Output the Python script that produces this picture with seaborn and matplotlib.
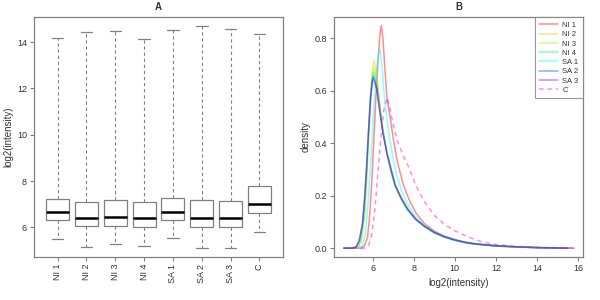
import numpy as np
import pandas as pd
import matplotlib
matplotlib.use('Agg')
import matplotlib.pyplot as plt
import seaborn as sns

# ---- panel A: boxplot summary values ----
samples = ['NI 1', 'NI 2', 'NI 3', 'NI 4', 'SA 1', 'SA 2', 'SA 3', 'C']
whisk_lo = [5.48, 5.16, 5.28, 5.19, 5.55, 5.11, 5.11, 5.80]
q1 = [6.33, 6.04, 6.04, 6.00, 6.30, 6.00, 6.00, 6.60]
median = [6.65, 6.39, 6.46, 6.39, 6.66, 6.41, 6.40, 7.02]
q3 = [7.21, 7.08, 7.19, 7.11, 7.28, 7.19, 7.14, 7.77]
whisk_hi = [14.16, 14.45, 14.47, 14.12, 14.54, 14.71, 14.55, 14.36]

# ---- panel B: density curves ----
x_ni1 = [4.6, 5.45, 5.6, 5.75, 5.85, 5.95, 6.05, 6.15, 6.25, 6.35, 6.42, 6.5, 6.6, 6.7, 6.85,
         7.0, 7.2, 7.5, 7.8, 8.1, 8.5, 9.0, 9.5, 10.0, 10.5, 11.0, 12.0, 13.0, 14.0, 15.8]
y_ni1 = [0, 0, 0.01, 0.04, 0.12, 0.24, 0.40, 0.56, 0.70, 0.81, 0.849, 0.80, 0.68, 0.57, 0.50,
         0.42, 0.33, 0.24, 0.18, 0.135, 0.095, 0.065, 0.046, 0.033, 0.023, 0.017, 0.009, 0.005, 0.002, 0]

x_ni2 = [4.6, 5.1, 5.3, 5.45, 5.6, 5.7, 5.8, 5.9, 6.0, 6.08, 6.2, 6.35, 6.5, 6.7, 6.9,
         7.1, 7.4, 7.7, 8.1, 8.5, 9.0, 9.5, 10.0, 10.5, 11.0, 12.0, 13.0, 14.0, 15.6]
y_ni2 = [0, 0, 0.005, 0.03, 0.12, 0.25, 0.42, 0.58, 0.69, 0.716, 0.66, 0.55, 0.45, 0.36, 0.29,
         0.235, 0.185, 0.145, 0.11, 0.083, 0.058, 0.042, 0.03, 0.021, 0.015, 0.008, 0.004, 0.002, 0]

x_ni3 = [4.6, 5.1, 5.3, 5.45, 5.6, 5.7, 5.8, 5.9, 6.0, 6.07, 6.2, 6.35, 6.5, 6.7, 6.9,
         7.1, 7.4, 7.7, 8.1, 8.5, 9.0, 9.5, 10.0, 10.5, 11.0, 12.0, 13.0, 14.0, 15.6]
y_ni3 = [0, 0, 0.005, 0.03, 0.12, 0.25, 0.41, 0.56, 0.665, 0.688, 0.645, 0.545, 0.45, 0.36, 0.29,
         0.235, 0.185, 0.145, 0.11, 0.083, 0.058, 0.042, 0.03, 0.021, 0.015, 0.008, 0.004, 0.002, 0]

x_ni4 = [4.6, 5.05, 5.25, 5.4, 5.55, 5.65, 5.75, 5.85, 5.95, 6.05, 6.2, 6.35, 6.5, 6.7, 6.9,
         7.1, 7.4, 7.7, 8.1, 8.5, 9.0, 9.5, 10.0, 10.5, 11.0, 12.0, 13.0, 14.0, 15.6]
y_ni4 = [0, 0, 0.005, 0.03, 0.11, 0.22, 0.37, 0.52, 0.63, 0.67, 0.63, 0.535, 0.445, 0.36, 0.29,
         0.235, 0.185, 0.145, 0.11, 0.083, 0.058, 0.042, 0.03, 0.021, 0.015, 0.008, 0.004, 0.002, 0]

x_sa1 = [4.6, 5.3, 5.5, 5.65, 5.8, 5.9, 6.0, 6.1, 6.2, 6.3, 6.35, 6.45, 6.6, 6.8, 7.0,
         7.2, 7.5, 7.8, 8.1, 8.5, 9.0, 9.5, 10.0, 10.5, 11.0, 12.0, 13.0, 14.0, 15.6]
y_sa1 = [0, 0, 0.01, 0.05, 0.20, 0.32, 0.45, 0.58, 0.69, 0.75, 0.758, 0.70, 0.55, 0.43, 0.34,
         0.27, 0.20, 0.155, 0.12, 0.088, 0.062, 0.044, 0.032, 0.022, 0.016, 0.009, 0.005, 0.002, 0]

x_sa2 = [4.6, 5.0, 5.2, 5.35, 5.5, 5.6, 5.7, 5.8, 5.9, 6.0, 6.05, 6.2, 6.35, 6.5, 6.7,
         6.9, 7.1, 7.4, 7.7, 8.1, 8.5, 9.0, 9.5, 10.0, 10.5, 11.0, 12.0, 13.0, 14.0, 15.5]
y_sa2 = [0, 0, 0.005, 0.03, 0.09, 0.18, 0.30, 0.45, 0.58, 0.65, 0.654, 0.61, 0.52, 0.44, 0.36,
         0.30, 0.24, 0.19, 0.15, 0.11, 0.085, 0.06, 0.043, 0.031, 0.022, 0.016, 0.009, 0.005, 0.002, 0]

x_sa3 = [4.6, 5.0, 5.2, 5.35, 5.5, 5.6, 5.7, 5.8, 5.9, 6.0, 6.05, 6.2, 6.35, 6.5, 6.7,
         6.9, 7.1, 7.4, 7.7, 8.1, 8.5, 9.0, 9.5, 10.0, 10.5, 11.0, 12.0, 13.0, 14.0, 15.5]
y_sa3 = [0, 0, 0.005, 0.03, 0.09, 0.18, 0.30, 0.44, 0.57, 0.64, 0.645, 0.605, 0.52, 0.44, 0.36,
         0.30, 0.24, 0.19, 0.15, 0.11, 0.085, 0.06, 0.043, 0.031, 0.022, 0.016, 0.009, 0.005, 0.002, 0]

x_c = [4.6, 5.6, 5.8, 5.95, 6.1, 6.25, 6.4, 6.55, 6.71, 6.85, 7.0, 7.2, 7.5, 7.75,
       8.1, 8.5, 9.0, 9.5, 10.0, 10.5, 11.0, 11.5, 12.0, 13.0, 14.0, 15.8]
y_c = [0, 0, 0.01, 0.05, 0.14, 0.28, 0.42, 0.53, 0.574, 0.53, 0.47, 0.41, 0.35, 0.31,
       0.24, 0.18, 0.125, 0.09, 0.066, 0.048, 0.032, 0.021, 0.014, 0.006, 0.003, 0]

curves = [(x_ni1, y_ni1), (x_ni2, y_ni2), (x_ni3, y_ni3), (x_ni4, y_ni4),
          (x_sa1, y_sa1), (x_sa2, y_sa2), (x_sa3, y_sa3), (x_c, y_c)]
colors = ['#ff0000', '#ffbf00', '#80ff00', '#00ff40', '#00ffff', '#0040ff', '#8000ff', '#ff00bf']

sns.set_style('white')
plt.rcParams['font.family'] = ['Liberation Sans', 'DejaVu Sans']
edge = '#808080'
txt = '#333333'

fig = plt.figure(figsize=(6, 3), dpi=100)
ax1 = fig.add_axes([0.0567, 0.144, 0.415, 0.799])
ax2 = fig.add_axes([0.5567, 0.144, 0.415, 0.799])

# long-form table: 5 points per sample give exact quartiles with whis=(0, 100)
rows = []
for i, s in enumerate(samples):
    for v in (whisk_lo[i], q1[i], median[i], q3[i], whisk_hi[i]):
        rows.append({'sample': s, 'value': v})
df = pd.DataFrame(rows)

sns.boxplot(data=df, x='sample', y='value', order=samples, whis=(0, 100), width=0.8,
            color='white', linecolor=edge, linewidth=0.9, ax=ax1,
            medianprops=dict(color='black', linewidth=1.8),
            whiskerprops=dict(color=edge, linestyle=(0, (3, 2.5)), linewidth=0.8),
            capprops=dict(color=edge, linewidth=0.9),
            boxprops=dict(facecolor='white', edgecolor=edge))
ax1.set_xlim(-0.82, 7.82)
ax1.set_ylim(4.73, 15.08)
ax1.set_yticks([6, 8, 10, 12, 14])
ax1.set_xlabel('')
ax1.set_ylabel('log2(intensity)', fontsize=7, color=txt, labelpad=3)
ax1.set_title('A', fontsize=7, fontweight='bold', color=txt, pad=5)
ax1.tick_params(axis='x', labelrotation=90)

for i, (xs, ys) in enumerate(curves):
    ls = (0, (3, 2.5)) if samples[i] == 'C' else '-'
    sns.lineplot(x=xs, y=ys, color=colors[i], alpha=0.45, linewidth=1.1,
                 linestyle=ls, label=samples[i], ax=ax2, sort=False, estimator=None)
ax2.set_xlim(4.12, 16.24)
ax2.set_ylim(-0.033, 0.881)
ax2.set_xticks([6, 8, 10, 12, 14, 16])
ax2.set_yticks([0, 0.2, 0.4, 0.6, 0.8])
ax2.set_yticklabels(['0.0', '0.2', '0.4', '0.6', '0.8'])
ax2.set_xlabel('log2(intensity)', fontsize=7, color=txt, labelpad=4)
ax2.set_ylabel('density', fontsize=7, color=txt, labelpad=3)
ax2.set_title('B', fontsize=7, fontweight='bold', color=txt, pad=5)
leg = ax2.legend(loc='upper right', fontsize=5.5, frameon=True, fancybox=False,
                 edgecolor=edge, borderaxespad=0, handlelength=2.4, labelspacing=0.25,
                 borderpad=0.6, handletextpad=0.6)
leg.get_frame().set_linewidth(0.8)
for t in leg.get_texts():
    t.set_color(txt)

for ax in (ax1, ax2):
    for sp in ax.spines.values():
        sp.set_color(edge)
        sp.set_linewidth(0.9)
    ax.tick_params(axis='both', which='both', direction='out', length=3, width=0.8,
                   color=edge, labelsize=6.5, labelcolor=txt, left=True, bottom=True, pad=2)

fig.savefig('out.png', dpi=100)
